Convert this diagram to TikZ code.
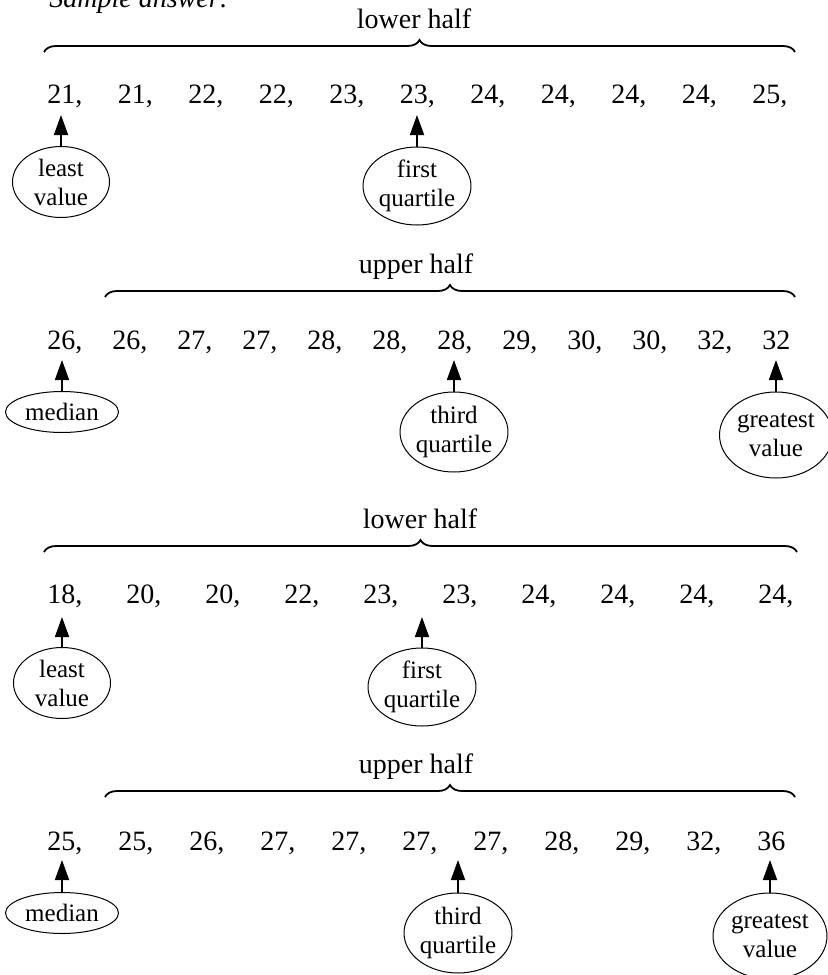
\documentclass[tikz,border=0pt]{standalone}
\usepackage{fontspec}
\setmainfont{Liberation Serif}
\usetikzlibrary{shapes.geometric,decorations.pathreplacing,arrows.meta}
\begin{document}
\begin{tikzpicture}[x=0.5pt,y=-0.5pt,
 num/.style={anchor=base west, inner sep=0pt, font=\fontsize{14}{16}\selectfont},
 ttl/.style={anchor=base, inner sep=0pt, font=\fontsize{14}{16}\selectfont},
 oval/.style={ellipse, draw, line width=0.5pt, inner sep=0pt, align=center, font=\fontsize{12.5}{14.5}\selectfont},
 smallov/.style={oval, minimum width=48.5pt, minimum height=35.5pt},
 quartov/.style={oval, minimum width=51.5pt, minimum height=39pt},
 medov/.style={oval, minimum width=56.5pt, minimum height=20.5pt},
 bigov/.style={oval, minimum width=56.5pt, minimum height=43pt},
 bracket/.style={decorate, decoration={brace, amplitude=6pt}, line width=0.9pt},
 arr/.style={-{Triangle[width=7pt,length=10pt]}, line width=0.9pt}]
\useasboundingbox (0,0) rectangle (828,975);
\node[anchor=base west, inner sep=0pt, font=\fontsize{14}{16}\selectfont\itshape] (sa) at (49,7) {Sample answer:};

% ---------- block 1 ----------
\node[ttl] (t1) at (414,28) {lower half};
\coordinate (b1s) at (44,52); \coordinate (b1e) at (795,52);
\draw[bracket] (b1s) -- (b1e);
\foreach \v [count=\i] in {{21,},{21,},{22,},{22,},{23,},{23,},{24,},{24,},{24,},{24,},{25,}}
  \node[num] (ra\i) at ({47+70.5*(\i-1)},103) {\v};
\node[smallov] (e1a) at (61,182) {least\\value};
\node[quartov] (e1b) at (417,186) {first\\quartile};
\coordinate (p1a) at (61,115); \coordinate (p1b) at (417,115);
\draw[arr] (e1a) -- (p1a);
\draw[arr] (e1b) -- (p1b);

% ---------- block 2 ----------
\node[ttl] (t2) at (416,273) {upper half};
\coordinate (b2s) at (105,297); \coordinate (b2e) at (795,297);
\draw[bracket] (b2s) -- (b2e);
\foreach \v [count=\i] in {{26,},{26,},{27,},{27,},{28,},{28,},{28,},{29,},{30,},{30,},{32,},{32}}
  \node[num] (rb\i) at ({47+65*(\i-1)},349) {\v};
\node[medov] (e2a) at (62,412) {median};
\node[quartov, minimum height=40pt] (e2b) at (454,432) {third\\quartile};
\node[bigov] (e2c) at (776,435) {greatest\\value};
\coordinate (p2a) at (62,360); \coordinate (p2b) at (454,360); \coordinate (p2c) at (776,360);
\draw[arr] (e2a) -- (p2a);
\draw[arr] (e2b) -- (p2b);
\draw[arr] (e2c) -- (p2c);

% ---------- block 3 ----------
\node[ttl] (t3) at (420,528) {lower half};
\coordinate (b3s) at (44,552); \coordinate (b3e) at (797,552);
\draw[bracket] (b3s) -- (b3e);
\foreach \v [count=\i] in {{18,},{20,},{20,},{22,},{23,},{23,},{24,},{24,},{24,},{24,}}
  \node[num] (rc\i) at ({47+79*(\i-1)},603) {\v};
\node[smallov] (e3a) at (62,683) {least\\value};
\node[quartov] (e3b) at (422,687) {first\\quartile};
\coordinate (p3a) at (62,617); \coordinate (p3b) at (422,617);
\draw[arr] (e3a) -- (p3a);
\draw[arr] (e3b) -- (p3b);

% ---------- block 4 ----------
\node[ttl] (t4) at (416,773) {upper half};
\coordinate (b4s) at (105,797); \coordinate (b4e) at (795,797);
\draw[bracket] (b4s) -- (b4e);
\foreach \v [count=\i] in {{25,},{25,},{26,},{27,},{27,},{27,},{27,},{28,},{29,},{32,},{36}}
  \node[num] (rd\i) at ({47+71*(\i-1)},850) {\v};
\node[medov] (e4a) at (62,913) {median};
\node[quartov, minimum height=40pt] (e4b) at (458,933) {third\\quartile};
\node[bigov, minimum width=57pt] (e4c) at (770,936) {greatest\\value};
\coordinate (p4a) at (62,860); \coordinate (p4b) at (458,860); \coordinate (p4c) at (770,860);
\draw[arr] (e4a) -- (p4a);
\draw[arr] (e4b) -- (p4b);
\draw[arr] (e4c) -- (p4c);
\end{tikzpicture}
\end{document}
